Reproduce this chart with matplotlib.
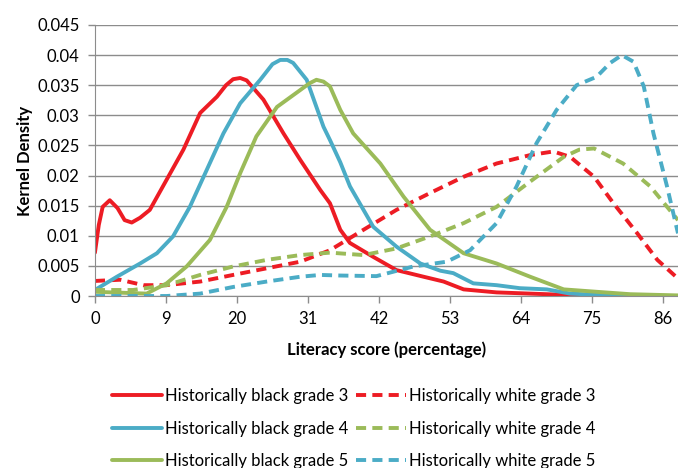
import matplotlib
matplotlib.use("Agg")
import matplotlib.pyplot as plt

# x is in axis units: tick k sits at 11*k, labelled with the score below
tick_pos = [0, 11, 22, 33, 44, 55, 66, 77, 88]
tick_labels = ["0", "9", "20", "31", "42", "53", "64", "75", "86"]

black3_x = [0, 0.6, 1.2, 2.3, 3.5, 4.6, 5.7, 7.0, 8.5, 11.1, 13.7, 16.3, 18.9, 20.3, 21.4, 22.5, 23.5, 26.1, 29.2, 31.8, 34.9, 36.4, 38.0, 39.5, 43.1, 46.7, 50.9, 54.0, 57.1, 62.2, 70.0, 75.0, 90.3]
black3_y = [0.0072, 0.0118, 0.0148, 0.0159, 0.0146, 0.0126, 0.0122, 0.0130, 0.0143, 0.0193, 0.0243, 0.0304, 0.0331, 0.0350, 0.0360, 0.0362, 0.0358, 0.0326, 0.0270, 0.0226, 0.0176, 0.0154, 0.0110, 0.0088, 0.0065, 0.0043, 0.0032, 0.0024, 0.0011, 0.0006, 0.0003, 0.0001, 0.0]

black4_x = [0, 3.4, 7.0, 9.6, 12.1, 14.7, 17.3, 19.9, 22.5, 25.6, 27.5, 28.7, 29.8, 30.7, 32.8, 35.4, 36.4, 38.0, 39.5, 43.1, 46.7, 50.4, 53.5, 55.5, 58.6, 62.2, 65.8, 70.0, 73.6, 77.7, 83.0, 90.3]
black4_y = [0.0010, 0.0032, 0.0054, 0.0071, 0.0099, 0.0148, 0.0209, 0.0270, 0.0320, 0.0359, 0.0385, 0.0392, 0.0392, 0.0387, 0.0359, 0.0281, 0.0259, 0.0222, 0.0182, 0.0115, 0.0082, 0.0054, 0.0042, 0.0038, 0.0021, 0.0018, 0.0013, 0.0011, 0.0004, 0.0002, 0.0, 0.0]

black5_x = [0, 8.0, 11.1, 14.2, 17.8, 20.4, 22.5, 25.0, 28.2, 31.8, 33.2, 34.3, 35.4, 36.4, 38.0, 40.0, 44.2, 47.8, 51.9, 57.1, 62.2, 67.4, 72.6, 77.7, 82.9, 90.3]
black5_y = [0.0007, 0.0004, 0.0021, 0.0049, 0.0093, 0.0148, 0.0204, 0.0265, 0.0314, 0.0342, 0.0353, 0.0359, 0.0356, 0.0348, 0.0309, 0.0270, 0.0220, 0.0165, 0.0110, 0.0071, 0.0054, 0.0032, 0.0011, 0.0007, 0.0003, 0.0001]

white3_x = [0, 3.9, 7.5, 11.1, 16.3, 21.4, 26.6, 31.8, 36.4, 41.6, 46.7, 51.9, 57.1, 62.2, 67.4, 71.0, 73.6, 77.3, 80.3, 84.0, 87.1, 90.3]
white3_y = [0.0025, 0.0027, 0.0018, 0.0018, 0.0024, 0.0035, 0.0046, 0.0057, 0.0076, 0.0110, 0.0143, 0.0171, 0.0198, 0.0220, 0.0234, 0.0240, 0.0231, 0.0198, 0.0154, 0.0104, 0.0060, 0.0029]

white4_x = [0, 5.9, 11.1, 16.3, 21.4, 26.6, 31.8, 36.4, 41.6, 46.7, 51.9, 57.1, 62.2, 67.4, 72.6, 75.0, 77.3, 81.8, 86.0, 90.3]
white4_y = [0.0010, 0.0010, 0.0018, 0.0035, 0.0049, 0.0060, 0.0068, 0.0072, 0.0068, 0.0079, 0.0099, 0.0121, 0.0148, 0.0190, 0.0231, 0.0243, 0.0245, 0.0220, 0.0182, 0.0126]

white5_x = [0, 11.1, 16.3, 21.4, 26.6, 31.8, 34.9, 38.0, 43.6, 49.3, 54.5, 58.1, 62.2, 65.3, 68.4, 71.5, 74.6, 77.7, 79.8, 81.6, 83.4, 85.0, 86.5, 88.6, 90.3]
white5_y = [0.0, 0.0, 0.0004, 0.0015, 0.0024, 0.0032, 0.0035, 0.0034, 0.0033, 0.0049, 0.0057, 0.0076, 0.0121, 0.0182, 0.0254, 0.0309, 0.0350, 0.0364, 0.0387, 0.0400, 0.0389, 0.0348, 0.0270, 0.0182, 0.0104]

RED = "#ED1C24"; BLUE = "#4BACC6"; GREEN = "#9BBB59"; GRID = "#8C8C8C"

plt.rcParams["font.family"] = ["Lato", "DejaVu Sans"]
fig = plt.figure(figsize=(6.78, 4.68), dpi=100)
ax = fig.add_axes([0.140, 0.3675, 0.860, 0.5791])

lw = 2.8
dash = (2.6, 1.6)
series = [
    (black3_x, black3_y, RED, "-", "Historically black grade 3"),
    (white3_x, white3_y, RED, "--", "Historically white grade 3"),
    (black4_x, black4_y, BLUE, "-", "Historically black grade 4"),
    (white4_x, white4_y, GREEN, "--", "Historically white grade 4"),
    (black5_x, black5_y, GREEN, "-", "Historically black grade 5"),
    (white5_x, white5_y, BLUE, "--", "Historically white grade 5"),
]
handles = {}
for x, y, c, ls, lab in series:
    if ls == "--":
        ln, = ax.plot(x, y, color=c, lw=lw, dashes=dash, dash_capstyle="butt", label=lab)
    else:
        ln, = ax.plot(x, y, color=c, lw=lw, solid_capstyle="round", solid_joinstyle="round", label=lab)
    handles[lab] = ln

ax.set_xlim(0, 90.3)
ax.set_ylim(0, 0.045)
ax.set_xticks(tick_pos)
ax.set_xticklabels(tick_labels)
ax.set_yticks([i * 0.005 for i in range(10)])
ax.set_yticklabels(["0", "0.005", "0.01", "0.015", "0.02", "0.025", "0.03", "0.035", "0.04", "0.045"])
ax.yaxis.grid(True, color=GRID, lw=1.0)
ax.set_axisbelow(True)
for s in ["top", "right"]:
    ax.spines[s].set_visible(False)
ax.spines["left"].set_color(GRID)
ax.spines["bottom"].set_color(GRID)
ax.tick_params(axis="both", colors=GRID, labelcolor="black", labelsize=12, length=5, width=1)
ax.tick_params(axis="y", pad=6)
ax.tick_params(axis="x", pad=6)
ax.set_xlabel("Literacy score (percentage)", fontsize=12, fontweight="bold", labelpad=10)
ax.set_ylabel("Kernel Density", fontsize=12, fontweight="bold", labelpad=3)

order = ["Historically black grade 3", "Historically black grade 4", "Historically black grade 5",
         "Historically white grade 3", "Historically white grade 4", "Historically white grade 5"]
fig.legend([handles[k] for k in order], order, ncol=2, frameon=False, fontsize=12,
           loc="upper left", bbox_to_anchor=(0.165, 0.171), bbox_transform=fig.transFigure,
           handlelength=3.0, handletextpad=0.2, columnspacing=0.45, labelspacing=1.0,
           borderpad=0, borderaxespad=0)

fig.savefig("out.png", dpi=100)
